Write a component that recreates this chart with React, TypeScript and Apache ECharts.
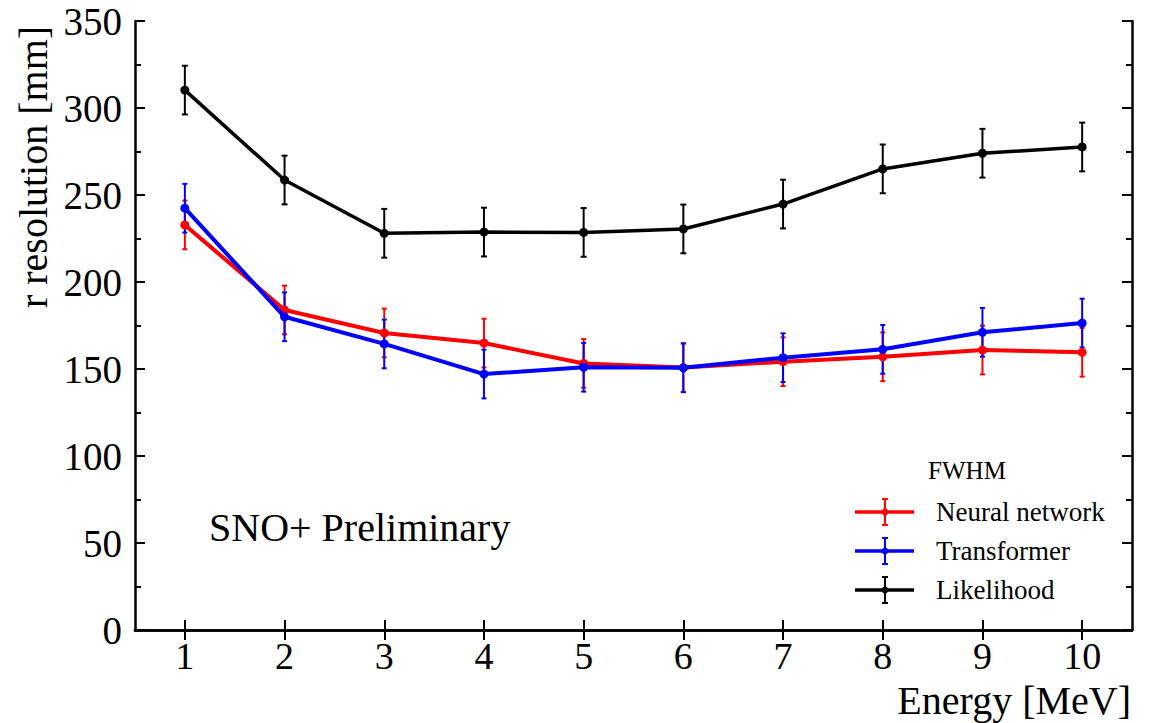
import React, { useEffect, useRef } from "react";
import * as echarts from "echarts";

const energies = ["1", "2", "3", "4", "5", "6", "7", "8", "9", "10"];
const nnValues = [232.8, 183.9, 170.7, 164.9, 153.2, 150.8, 154.2, 157.0, 160.9, 159.6];
const nnErrors = [14, 14, 14, 14, 14, 14, 14, 14, 14, 14];
const trValues = [242.4, 180.0, 164.4, 147.1, 151.0, 150.7, 156.5, 161.3, 171.1, 176.4];
const trErrors = [14, 14, 14, 14, 14, 14, 14, 14, 14, 14];
const lhValues = [310.3, 258.6, 228.0, 228.7, 228.5, 230.5, 244.8, 265.0, 274.0, 277.6];
const lhErrors = [14, 14, 14, 14, 14, 14, 14, 14, 14, 14];
const yTicks = [0, 350, 50];

const FONT = "Liberation Serif";

function errorSeries(name: string, values: number[], errs: number[], color: string, capW: number) {
  return {
    type: "custom",
    name: name + "-err",
    xAxisIndex: 0,
    yAxisIndex: 0,
    silent: true,
    z: 3,
    encode: { x: 0, y: 1 },
    data: values.map((v, i) => [i, v, errs[i]]),
    renderItem: (params: any, api: any) => {
      const x = api.value(0);
      const y = api.value(1);
      const e = api.value(2);
      const top = api.coord([x, y + e]);
      const bot = api.coord([x, y - e]);
      const st = { stroke: color, lineWidth: 2 };
      return {
        type: "group",
        children: [
          { type: "line", shape: { x1: top[0], y1: top[1], x2: bot[0], y2: bot[1] }, style: st },
          { type: "line", shape: { x1: top[0] - capW, y1: top[1], x2: top[0] + capW, y2: top[1] }, style: st },
          { type: "line", shape: { x1: bot[0] - capW, y1: bot[1], x2: bot[0] + capW, y2: bot[1] }, style: st },
        ],
      };
    },
  };
}

function lineSeries(name: string, values: number[], color: string, width: number, z: number) {
  return {
    type: "line",
    name,
    data: values,
    xAxisIndex: 0,
    yAxisIndex: 0,
    symbol: "circle",
    symbolSize: 9,
    z,
    itemStyle: { color },
    lineStyle: { color, width },
  };
}

function legendItem(y: number, color: string, label: string) {
  return [
    { type: "line", shape: { x1: 855, y1: y, x2: 914, y2: y }, style: { stroke: color, lineWidth: 3.5 } },
    { type: "line", shape: { x1: 885, y1: y - 13, x2: 885, y2: y + 13 }, style: { stroke: color, lineWidth: 2 } },
    { type: "line", shape: { x1: 882, y1: y - 13, x2: 888, y2: y - 13 }, style: { stroke: color, lineWidth: 2 } },
    { type: "line", shape: { x1: 882, y1: y + 13, x2: 888, y2: y + 13 }, style: { stroke: color, lineWidth: 2 } },
    { type: "circle", shape: { cx: 885, cy: y, r: 3.5 }, style: { fill: color } },
    {
      type: "text",
      x: 936,
      y,
      style: { text: label, fontFamily: FONT, fontSize: 27, fill: "#000", textVerticalAlign: "middle", textAlign: "left" },
    },
  ];
}

export default function App() {
  const ref = useRef<HTMLDivElement>(null);
  useEffect(() => {
    if (!ref.current) return;
    const chart = echarts.init(ref.current, undefined, { renderer: "svg" });
    const axisLine = { show: true, lineStyle: { color: "#000", width: 2.5 } };
    const xBase = {
      type: "category",
      data: energies,
      boundaryGap: true,
      axisLine,
      splitLine: { show: false },
      axisTick: { show: true, inside: true, alignWithLabel: true, length: 10, lineStyle: { color: "#000", width: 2 } },
    };
    const yBase = {
      type: "value",
      min: yTicks[0],
      max: yTicks[1],
      interval: yTicks[2],
      axisLine,
      splitLine: { show: false },
      axisTick: { show: true, inside: true, length: 10, lineStyle: { color: "#000", width: 2 } },
      minorTick: { show: true, splitNumber: 2, length: 6, lineStyle: { color: "#000", width: 2 } },
    };
    chart.setOption({
      animation: false,
      backgroundColor: "#fff",
      grid: { left: 135, right: 26, top: 21, bottom: 93, containLabel: false },
      xAxis: [
        {
          ...xBase,
          position: "bottom",
          axisLabel: { show: true, fontFamily: FONT, fontSize: 38, color: "#000", margin: 7, lineHeight: 38 },
        },
        { ...xBase, position: "top", axisLabel: { show: false } },
      ],
      yAxis: [
        {
          ...yBase,
          position: "left",
          axisLabel: { show: true, fontFamily: FONT, fontSize: 39, color: "#000", margin: 13 },
        },
        { ...yBase, position: "right", axisLabel: { show: false } },
      ],
      series: [
        errorSeries("Neural network", nnValues, nnErrors, "#ff0000", 2.5),
        errorSeries("Transformer", trValues, trErrors, "#0000ff", 2.5),
        errorSeries("Likelihood", lhValues, lhErrors, "#000000", 3),
        lineSeries("Neural network", nnValues, "#ff0000", 4, 4),
        lineSeries("Transformer", trValues, "#0000ff", 4, 5),
        lineSeries("Likelihood", lhValues, "#000000", 3.5, 6),
      ],
      graphic: [
        {
          type: "text",
          x: 33,
          y: 167,
          rotation: Math.PI / 2,
          style: {
            text: "r resolution [mm]",
            fontFamily: FONT,
            fontSize: 40,
            fill: "#000",
            textAlign: "center",
            textVerticalAlign: "middle",
          },
        },
        {
          type: "text",
          x: 1131,
          y: 700,
          style: {
            text: "Energy [MeV]",
            fontFamily: FONT,
            fontSize: 40,
            lineHeight: 40,
            fill: "#000",
            textAlign: "right",
            textVerticalAlign: "middle",
          },
        },
        {
          type: "text",
          x: 209,
          y: 527,
          style: {
            text: "SNO+ Preliminary",
            fontFamily: FONT,
            fontSize: 40,
            fill: "#000",
            textAlign: "left",
            textVerticalAlign: "middle",
          },
        },
        {
          type: "text",
          x: 967,
          y: 470,
          style: {
            text: "FWHM",
            fontFamily: FONT,
            fontSize: 25,
            fill: "#000",
            textAlign: "center",
            textVerticalAlign: "middle",
          },
        },
        ...legendItem(512, "#ff0000", "Neural network"),
        ...legendItem(551, "#0000ff", "Transformer"),
        ...legendItem(590, "#000000", "Likelihood"),
      ],
    });
    return () => chart.dispose();
  }, []);
  return <div ref={ref} style={{ width: 1158, height: 723, position: "absolute", left: 0, top: 0 }} />;
}
